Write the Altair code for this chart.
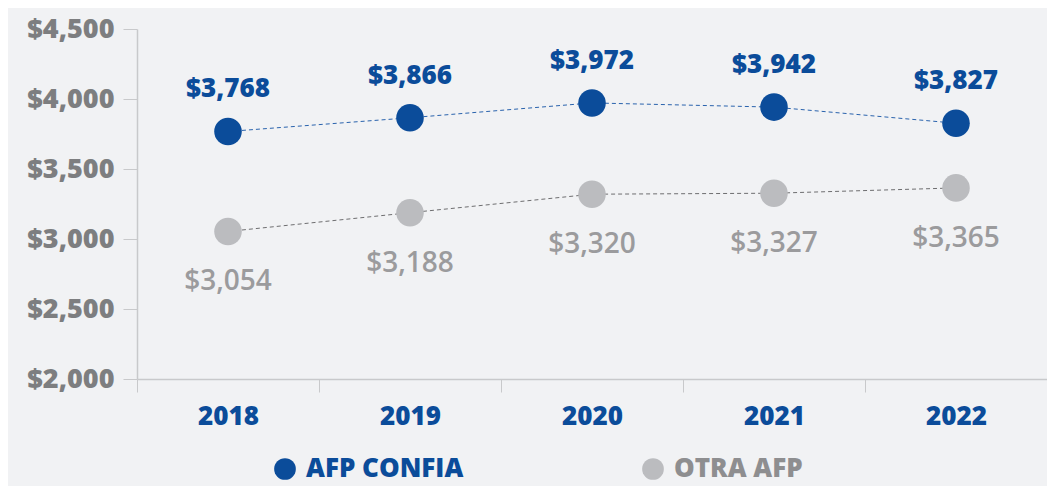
import altair as alt
import pandas as pd

years = ["2018", "2019", "2020", "2021", "2022"]
series_names = ["AFP CONFIA", "OTRA AFP"]
confia = [3768, 3866, 3972, 3942, 3827]
otra = [3054, 3188, 3320, 3327, 3365]
y_ticks = [2000, 2500, 3000, 3500, 4000, 4500]

BLUE = "#0b4c9a"
GREY_PT = "#bbbcbf"
GREY_TXT = "#9b9b9d"
AXIS_GREY = "#7d7e80"
BG = "#f1f2f4"
FONT = "Open Sans"

rows = []
for name, vals in zip(series_names, [confia, otra]):
    for yr, v in zip(years, vals):
        rows.append({"year": yr, "series": name, "value": v, "label": f"${v:,}"})
df = pd.DataFrame(rows)

x_enc = alt.X(
    "year:N",
    sort=years,
    scale=alt.Scale(type="band", paddingInner=0, paddingOuter=0),
    axis=alt.Axis(
        title=None, labelAngle=0, labelFont=FONT, labelFontSize=26,
        labelFontWeight=800, labelColor=BLUE, labelPadding=11,
        tickBand="extent", tickSize=13, tickColor="#c8c9cb",
        domainColor="#c8c9cb", domainWidth=1.5, grid=False,
    ),
    bandPosition=0.5,
)
y_enc = alt.Y(
    "value:Q",
    scale=alt.Scale(domain=[2000, 4500], nice=False, zero=False),
    axis=alt.Axis(
        title=None, values=y_ticks, format="$,.0f", labelFont=FONT,
        labelFontSize=27, labelFontWeight=800, labelColor=AXIS_GREY,
        labelPadding=9, tickSize=14, tickColor="#c8c9cb",
        domainColor="#c8c9cb", domainWidth=1.5, grid=False,
    ),
)

base = alt.Chart(df).encode(x=x_enc, y=y_enc)

line_blue = base.transform_filter(alt.datum.series == "AFP CONFIA").mark_line(
    color="#2a63ad", strokeWidth=1, strokeDash=[4, 3]
)
line_grey = base.transform_filter(alt.datum.series == "OTRA AFP").mark_line(
    color="#6e6e70", strokeWidth=1, strokeDash=[4, 3]
)

points = base.mark_point(filled=True, size=760, opacity=1).encode(
    color=alt.Color(
        "series:N",
        scale=alt.Scale(domain=series_names, range=[BLUE, GREY_PT]),
        legend=alt.Legend(
            title=None, orient="none", legendX=135, legendY=427,
            direction="horizontal", symbolType="circle", symbolSize=470,
            symbolStrokeWidth=0, symbolOpacity=1, labelFont=FONT,
            labelFontSize=26, labelFontWeight=800, labelOffset=8,
            labelLimit=400, columnPadding=176, padding=0,
            labelColor={"expr": "datum.label == 'AFP CONFIA' ? '#0b4c9a' : '#8e8e90'"},
        ),
    )
)

text_blue = base.transform_filter(alt.datum.series == "AFP CONFIA").mark_text(
    font=FONT, fontSize=26, fontWeight=800, color=BLUE, dy=-42
).encode(text="label:N")
text_grey = base.transform_filter(alt.datum.series == "OTRA AFP").mark_text(
    font=FONT, fontSize=28, fontWeight=600, color=GREY_TXT, dy=51
).encode(text="label:N")

chart = alt.layer(line_blue, line_grey, points, text_blue, text_grey).properties(
    width=910, height=350,
    autosize=alt.AutoSizeParams(type="none"),
    padding={"left": 129, "top": 21, "right": 0, "bottom": 107},
    background=BG,
).configure_view(stroke=None)

chart.save("out.html", embed_options={"renderer": "svg", "actions": False})
